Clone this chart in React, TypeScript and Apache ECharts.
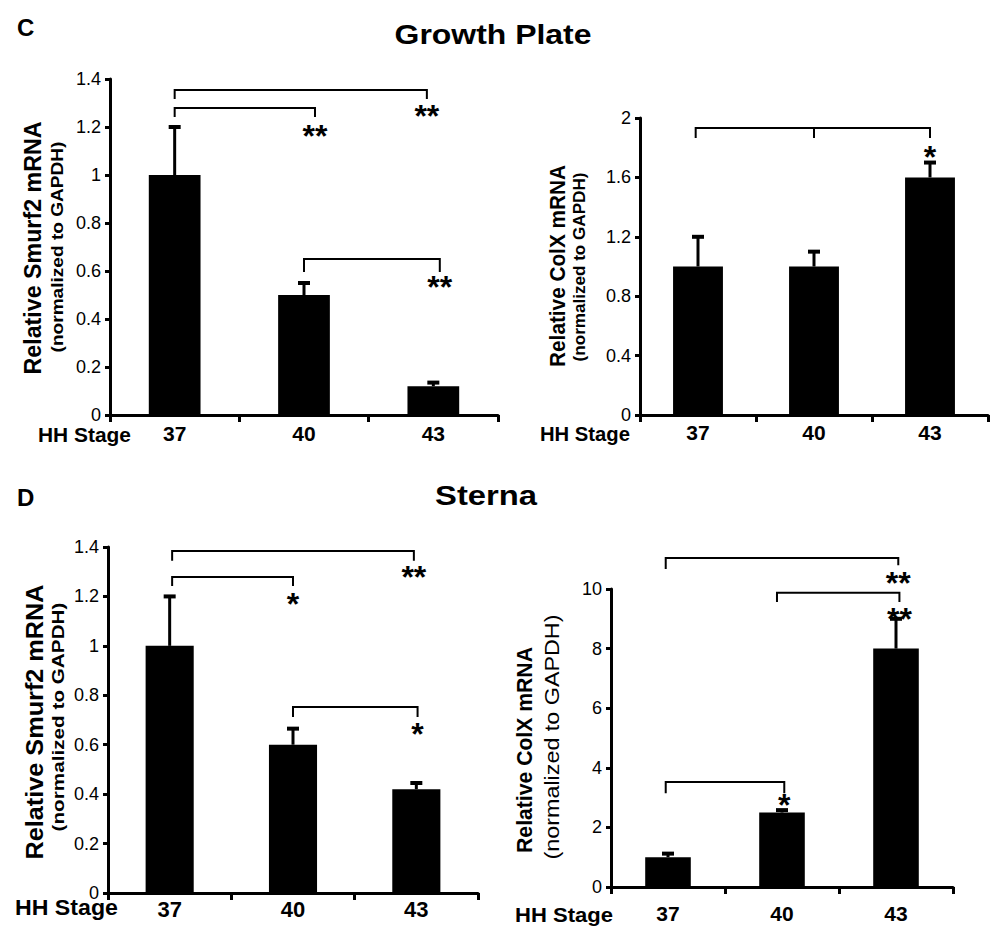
import React, { useEffect, useRef } from 'react';
import * as echarts from 'echarts';

// ---------- data ----------
const stages = ['37', '40', '43'];

const gpSmurfMean = [1.0, 0.5, 0.12];
const gpSmurfErr = [0.2, 0.05, 0.015];
const gpColxMean = [1.0, 1.0, 1.6];
const gpColxErr = [0.2, 0.1, 0.1];

const stSmurfMean = [1.0, 0.6, 0.42];
const stSmurfErr = [0.2, 0.065, 0.025];
const stColxMean = [1.0, 2.5, 8.0];
const stColxErr = [0.12, 0.08, 1.0];

// significance brackets: from/to are category positions, y values in axis units
const gpSmurfBrackets = [
  { from: 0, to: 1.95, y: 1.354, dropL: 1.317, dropR: 1.317, mid: [], label: '**', labelY: 1.275 },
  { from: 0, to: 1.085, y: 1.279, dropL: 1.242, dropR: 1.242, mid: [], label: '**', labelY: 1.19 },
  { from: 1, to: 2.05, y: 0.65, dropL: 0.596, dropR: 0.596, mid: [], label: '**', labelY: 0.5625 },
];
const gpColxBrackets = [
  { from: -0.02, to: 2.0, y: 1.933, dropL: 1.865, dropR: 1.865, mid: [1], label: '*', labelY: 1.785 },
];
const stSmurfBrackets = [
  { from: 0.02, to: 1.98, y: 1.384, dropL: 1.344, dropR: 1.344, mid: [], label: '**', labelY: 1.307 },
  { from: 0.02, to: 1.0, y: 1.279, dropL: 1.242, dropR: 1.242, mid: [], label: '*', labelY: 1.198 },
  { from: 1.0, to: 2.01, y: 0.753, dropL: 0.712, dropR: 0.712, mid: [], label: '*', labelY: 0.672 },
];
const stColxBrackets = [
  { from: -0.02, to: 2.02, y: 11.04, dropL: 10.67, dropR: 10.8, mid: [], label: '**', labelY: 10.44 },
  { from: 0.956, to: 2.03, y: 9.87, dropL: 9.56, dropR: 9.56, mid: [], label: '**', labelY: 9.23 },
  { from: -0.02, to: 1.02, y: 3.52, dropL: 3.15, dropR: 3.15, mid: [], label: '*', labelY: 2.99 },
];

const FONT = "'Liberation Sans', Arial, Helvetica, sans-serif";

type Panel = {
  grid: { left: number; top: number; width: number; height: number };
  max: number;
  interval: number;
  mean: number[];
  err: number[];
  brackets: any[];
  barWidth: string;
  catFont: number;
  catMargin: number;
};

const panels: Panel[] = [
  { grid: { left: 110, top: 79, width: 388, height: 336 }, max: 1.4, interval: 0.2, mean: gpSmurfMean, err: gpSmurfErr, brackets: gpSmurfBrackets, barWidth: '40%', catFont: 21, catMargin: 8 },
  { grid: { left: 640, top: 118, width: 348, height: 297 }, max: 2, interval: 0.4, mean: gpColxMean, err: gpColxErr, brackets: gpColxBrackets, barWidth: '43%', catFont: 21, catMargin: 7 },
  { grid: { left: 108, top: 547, width: 370, height: 346 }, max: 1.4, interval: 0.2, mean: stSmurfMean, err: stSmurfErr, brackets: stSmurfBrackets, barWidth: '39%', catFont: 22, catMargin: 5 },
  { grid: { left: 611, top: 589, width: 342, height: 298 }, max: 10, interval: 2, mean: stColxMean, err: stColxErr, brackets: stColxBrackets, barWidth: '40%', catFont: 21, catMargin: 16 },
];

function measure(text: string, font: string): number {
  const c = document.createElement('canvas');
  const ctx = c.getContext('2d');
  if (!ctx) return text.length * 10;
  ctx.font = font;
  return ctx.measureText(text).width;
}

function fittedText(text: string, x: number, y: number, size: number, weight: string, target: number, rotated: boolean, align = 'center') {
  const w = measure(text, `${weight} ${size}px 'Liberation Sans'`);
  const s = target / w;
  return {
    type: 'text',
    x,
    y,
    rotation: rotated ? Math.PI / 2 : 0,
    scaleX: s,
    style: {
      text,
      fill: '#000',
      fontSize: size,
      fontWeight: weight,
      fontFamily: FONT,
      textAlign: align,
      textVerticalAlign: 'middle',
      align,
      verticalAlign: 'middle',
    },
  };
}

export default function App() {
  const ref = useRef<HTMLDivElement>(null);

  useEffect(() => {
    if (!ref.current) return;
    const chart = echarts.init(ref.current, undefined, { renderer: 'svg' });

    const grids = panels.map((p) => ({ ...p.grid, containLabel: false }));
    const xAxes = panels.map((p, i) => ({
      type: 'category',
      gridIndex: i,
      data: stages,
      boundaryGap: true,
      axisLine: { show: true, lineStyle: { color: '#000', width: 3 } },
      axisTick: { show: true, length: 7, lineStyle: { color: '#000', width: 3 } },
      axisLabel: { color: '#000', fontSize: p.catFont, fontWeight: 'bold', fontFamily: FONT, margin: p.catMargin },
      splitLine: { show: false },
    }));
    const yAxes = panels.map((p, i) => ({
      type: 'value',
      gridIndex: i,
      min: 0,
      max: p.max,
      interval: p.interval,
      axisLine: { show: true, lineStyle: { color: '#000', width: 3 } },
      axisTick: { show: true, length: 5, lineStyle: { color: '#000', width: 3 } },
      axisLabel: { color: '#000', fontSize: 18, fontFamily: FONT, margin: 9 },
      splitLine: { show: false },
    }));

    const series: any[] = [];
    panels.forEach((p, i) => {
      series.push({
        type: 'bar',
        xAxisIndex: i,
        yAxisIndex: i,
        data: p.mean,
        barWidth: p.barWidth,
        itemStyle: { color: '#000' },
        z: 2,
      });
      series.push({
        type: 'custom',
        xAxisIndex: i,
        yAxisIndex: i,
        clip: false,
        z: 3,
        data: p.mean.map((m, k) => [k, m, m + p.err[k]]),
        renderItem: (params: any, api: any) => {
          const base = api.coord([api.value(0), api.value(1)]);
          const top = api.coord([api.value(0), api.value(2)]);
          const half = 6;
          return {
            type: 'group',
            children: [
              { type: 'line', shape: { x1: base[0], y1: base[1], x2: top[0], y2: top[1] }, style: { stroke: '#000', lineWidth: 3 } },
              { type: 'line', shape: { x1: top[0] - half, y1: top[1], x2: top[0] + half, y2: top[1] }, style: { stroke: '#000', lineWidth: 4 } },
            ],
          };
        },
      });
      series.push({
        type: 'custom',
        xAxisIndex: i,
        yAxisIndex: i,
        clip: false,
        z: 4,
        data: p.brackets.map((b: any) => [Math.max(0, Math.round(b.from)), b.y]),
        renderItem: (params: any, api: any) => {
          const b = p.brackets[params.dataIndex];
          const bw = api.size([1, 0])[0];
          const cx = (pos: number) => {
            const base = Math.min(2, Math.max(0, Math.round(pos)));
            return api.coord([base, 0])[0] + (pos - base) * bw;
          };
          const cy = (v: number) => api.coord([0, v])[1];
          const x1 = cx(b.from);
          const x2 = cx(b.to);
          const y = cy(b.y);
          const st = { stroke: '#000', lineWidth: 2 };
          const children: any[] = [
            { type: 'polyline', shape: { points: [[x1, cy(b.dropL)], [x1, y], [x2, y], [x2, cy(b.dropR)]] }, style: { ...st, fill: null } },
          ];
          (b.mid || []).forEach((m: number) => {
            const xm = cx(m);
            children.push({ type: 'line', shape: { x1: xm, y1: y, x2: xm, y2: cy(b.dropL) }, style: st });
          });
          const fs = 32;
          children.push({
            type: 'text',
            x: x2,
            y: cy(b.labelY) + fs * 0.22,
            style: {
              text: b.label,
              fill: '#000',
              fontSize: fs,
              fontWeight: 'bold',
              fontFamily: FONT,
              textAlign: 'center',
              textVerticalAlign: 'middle',
              align: 'center',
              verticalAlign: 'middle',
            },
          });
          return { type: 'group', children };
        },
      });
    });

    const graphic: any[] = [
      { type: 'text', x: 17, y: 27, style: { text: 'C', fill: '#000', fontSize: 24, fontWeight: 'bold', fontFamily: FONT, textAlign: 'left', textVerticalAlign: 'middle', align: 'left', verticalAlign: 'middle' } },
      { type: 'text', x: 17, y: 497, style: { text: 'D', fill: '#000', fontSize: 24, fontWeight: 'bold', fontFamily: FONT, textAlign: 'left', textVerticalAlign: 'middle', align: 'left', verticalAlign: 'middle' } },
      fittedText('Growth Plate', 493, 34, 28, 'bold', 197, false),
      fittedText('Sterna', 486, 495, 28, 'bold', 102, false),
      // y axis titles
      fittedText('Relative Smurf2 mRNA', 33, 248, 24, 'bold', 253, true),
      fittedText('(normalized to GAPDH)', 57, 247, 17, 'bold', 211, true),
      fittedText('Relative ColX mRNA', 558, 266, 22, 'bold', 202, true),
      fittedText('(normalized to GAPDH)', 580, 267, 16, 'bold', 189, true),
      fittedText('Relative Smurf2 mRNA', 35, 722, 24, 'bold', 275, true),
      fittedText('(normalized to GAPDH)', 58, 717, 17, 'bold', 229, true),
      fittedText('Relative ColX mRNA', 524, 750, 22, 'bold', 206, true),
      fittedText('(normalized to GAPDH)', 552, 737, 20, 'normal', 245, true),
      // HH Stage labels
      fittedText('HH Stage', 38, 434, 21, 'bold', 93, false, 'left'),
      fittedText('HH Stage', 540, 433, 21, 'bold', 90, false, 'left'),
      fittedText('HH Stage', 15, 908, 22, 'bold', 103, false, 'left'),
      fittedText('HH Stage', 515, 915, 21, 'bold', 98, false, 'left'),
    ];

    chart.setOption({
      animation: false,
      backgroundColor: '#fff',
      textStyle: { fontFamily: FONT },
      grid: grids,
      xAxis: xAxes,
      yAxis: yAxes,
      series,
      graphic,
    });

    return () => chart.dispose();
  }, []);

  return <div ref={ref} style={{ position: 'absolute', left: 0, top: 0, width: 1004, height: 951 }} />;
}
